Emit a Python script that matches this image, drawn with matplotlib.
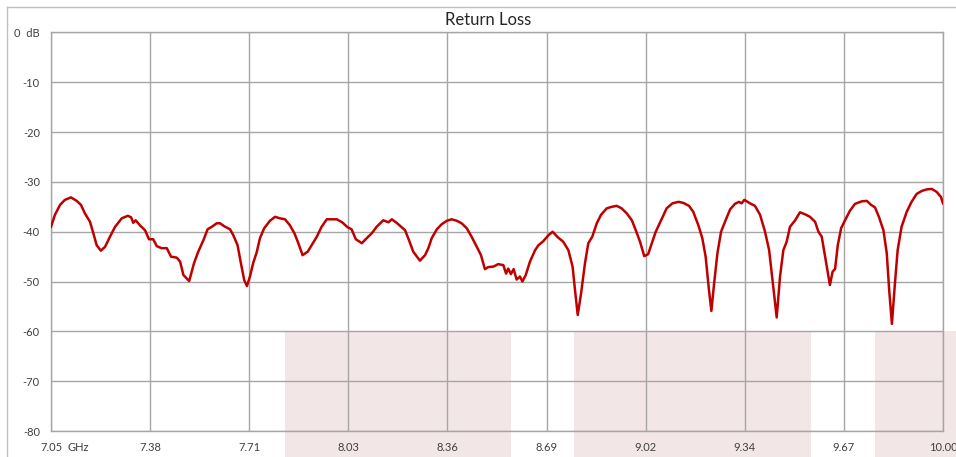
#!/usr/bin/env python3
# coding: utf-8

import matplotlib
matplotlib.use("Agg")
import matplotlib.pyplot as plt
from matplotlib.lines import Line2D

plt.rcParams['font.family'] = ['Lato', 'DejaVu Sans']

# DATA ########################################################################

freq_ghz = [
    7.050, 7.063, 7.080, 7.096, 7.116, 7.135, 7.149, 7.162, 7.179, 7.190,
    7.201, 7.215, 7.229, 7.245, 7.262, 7.284, 7.304, 7.315, 7.322, 7.330,
    7.344, 7.361, 7.374, 7.388, 7.400, 7.416, 7.433, 7.447, 7.466, 7.477,
    7.488, 7.507, 7.523, 7.537, 7.554, 7.568, 7.582, 7.598, 7.609, 7.623,
    7.642, 7.653, 7.667, 7.678, 7.689, 7.698, 7.708, 7.719, 7.730, 7.741,
    7.755, 7.774, 7.791, 7.807, 7.824, 7.840, 7.855, 7.868, 7.882, 7.899,
    7.914, 7.929, 7.945, 7.962, 7.978, 7.995, 8.013, 8.031, 8.044, 8.058,
    8.078, 8.094, 8.111, 8.127, 8.149, 8.166, 8.177, 8.193, 8.210, 8.221,
    8.234, 8.248, 8.270, 8.287, 8.298, 8.309, 8.326, 8.342, 8.359, 8.375,
    8.392, 8.408, 8.425, 8.441, 8.458, 8.472, 8.485, 8.496, 8.513, 8.529,
    8.546, 8.555, 8.562, 8.571, 8.580, 8.590, 8.601, 8.609, 8.620, 8.634,
    8.651, 8.662, 8.678, 8.695, 8.709, 8.726, 8.744, 8.761, 8.775, 8.783,
    8.792, 8.803, 8.816, 8.827, 8.840, 8.855, 8.869, 8.888, 8.904, 8.921,
    8.937, 8.954, 8.971, 8.984, 8.998, 9.012, 9.025, 9.037, 9.050, 9.067,
    9.086, 9.105, 9.125, 9.141, 9.160, 9.174, 9.191, 9.204, 9.215, 9.226,
    9.234, 9.243, 9.254, 9.266, 9.279, 9.296, 9.312, 9.325, 9.334, 9.343,
    9.362, 9.378, 9.395, 9.411, 9.425, 9.436, 9.450, 9.461, 9.472, 9.483,
    9.494, 9.511, 9.527, 9.544, 9.560, 9.577, 9.588, 9.599, 9.610, 9.619,
    9.626, 9.635, 9.643, 9.652, 9.663, 9.676, 9.692, 9.709, 9.731, 9.748,
    9.762, 9.775, 9.788, 9.803, 9.814, 9.822, 9.831, 9.841, 9.850, 9.863,
    9.880, 9.896, 9.913, 9.930, 9.946, 9.963, 9.979, 9.993, 10.000,
]

return_loss_db = [
    -39.0, -36.6, -34.6, -33.6, -33.1, -33.8, -34.6, -36.3, -38.0, -40.3,
    -42.7, -43.8, -43.0, -41.0, -39.0, -37.3, -36.8, -37.1, -38.2, -37.7,
    -38.7, -39.7, -41.5, -41.5, -42.9, -43.3, -43.3, -45.0, -45.2, -46.0,
    -48.7, -49.9, -46.3, -44.0, -41.7, -39.5, -39.0, -38.3, -38.3, -38.9,
    -39.5, -40.7, -42.7, -46.3, -49.7, -50.9, -49.0, -46.2, -44.2, -41.3,
    -39.3, -37.8, -37.0, -37.3, -37.5, -38.7, -40.3, -42.3, -44.7, -44.0,
    -42.5, -41.0, -39.0, -37.5, -37.5, -37.5, -38.1, -39.1, -39.5, -41.5,
    -42.3, -41.3, -40.3, -39.0, -37.7, -38.1, -37.5, -38.2, -39.1, -39.7,
    -41.7, -44.0, -45.8, -44.7, -43.3, -41.3, -39.5, -38.5, -37.8, -37.5,
    -37.8, -38.3, -39.3, -41.0, -43.0, -44.7, -47.5, -47.1, -47.0, -46.5,
    -46.7, -48.4, -47.4, -48.5, -47.5, -49.6, -49.0, -50.0, -48.7, -46.0,
    -43.7, -42.7, -41.9, -40.7, -40.0, -41.1, -42.0, -43.7, -47.0, -51.7,
    -56.7, -52.4, -46.3, -42.3, -41.0, -38.3, -36.6, -35.3, -35.0, -34.8,
    -35.3, -36.3, -37.7, -39.7, -42.0, -44.9, -44.5, -42.3, -40.0, -37.8,
    -35.3, -34.3, -34.0, -34.2, -34.8, -36.0, -38.7, -41.3, -45.0, -51.7,
    -55.9, -50.4, -44.3, -40.0, -38.0, -35.5, -34.4, -34.0, -34.3, -33.6,
    -34.3, -34.8, -36.6, -39.9, -43.7, -49.7, -57.2, -49.0, -43.7, -42.0,
    -39.0, -37.7, -36.1, -36.5, -37.0, -38.0, -40.0, -41.0, -45.0, -48.4,
    -50.7, -48.0, -47.5, -42.7, -39.3, -37.7, -35.8, -34.4, -33.9, -33.8,
    -34.6, -35.1, -37.0, -39.7, -44.3, -51.7, -58.5, -50.4, -43.7, -39.0,
    -36.0, -34.0, -32.4, -31.8, -31.5, -31.4, -32.0, -33.0, -34.3,
]

# spec mask bands (GHz), shaded from -60 dB downwards
mask_bands = [(7.824, 8.571), (8.780, 9.563), (9.775, 10.043)]
mask_level = -60

x_ticks = [7.05, 7.3778, 7.7056, 8.0333, 8.3611, 8.6889, 9.0167, 9.3444, 9.6722, 10.00]
x_tick_labels = ["7.05", "7.38", "7.71", "8.03", "8.36", "8.69", "9.02", "9.34", "9.67", "10.00"]
y_ticks = [0, -10, -20, -30, -40, -50, -60, -70, -80]
y_tick_labels = ["0  dB", "-10", "-20", "-30", "-40", "-50", "-60", "-70", "-80"]

# PLOT ########################################################################

W, H = 956, 457
fig = plt.figure(figsize=(W / 100, H / 100), dpi=100)
ax = fig.add_axes([51 / W, (H - 431) / H, 892 / W, 398.5 / H])

grid_color = "#a6a6a6"
text_color = "#404040"
tick_size = 8

ax.set_xlim(7.05, 10.0)
ax.set_ylim(-80, 0)

# mask bands (extend below the axes down to the image edge)
frac_level = (mask_level - (-80)) / 80.0
for f0, f1 in mask_bands:
    ax.axvspan(f0, f1, ymin=-0.07, ymax=frac_level, facecolor="#f2e6e7",
               edgecolor="none", clip_on=False, zorder=0.5)

ax.plot(freq_ghz, return_loss_db, color="#c00000", lw=1.8, zorder=3,
        solid_joinstyle="round")

ax.set_xticks(x_ticks)
ax.set_xticklabels(x_tick_labels)
ax.set_yticks(y_ticks)
ax.set_yticklabels(y_tick_labels)
ax.tick_params(axis="both", length=0, labelsize=tick_size, labelcolor=text_color)
ax.tick_params(axis="y", pad=8)
ax.tick_params(axis="x", pad=8)
ax.grid(True, color=grid_color, lw=1.0)

for sp in ax.spines.values():
    sp.set_color(grid_color)
    sp.set_linewidth(1.0)

# unit next to the first frequency label
ax.annotate("GHz", xy=(7.05, 0), xycoords=("data", "axes fraction"),
            xytext=(12, -8), textcoords="offset points", ha="left", va="top",
            fontsize=tick_size, color=text_color)

fig.text(488 / W, 1 - 20 / H, "Return Loss", ha="center", va="center",
         fontsize=12, color="#262626")

# outer chart frame (only left and top edges are inside the image)
fig.add_artist(Line2D([6.5 / W, 6.5 / W], [0, 1 - 6.5 / H], color="#bfbfbf", lw=1.0))
fig.add_artist(Line2D([6.5 / W, 1], [1 - 6.5 / H, 1 - 6.5 / H], color="#bfbfbf", lw=1.0))

fig.savefig("out.png", dpi=100)
